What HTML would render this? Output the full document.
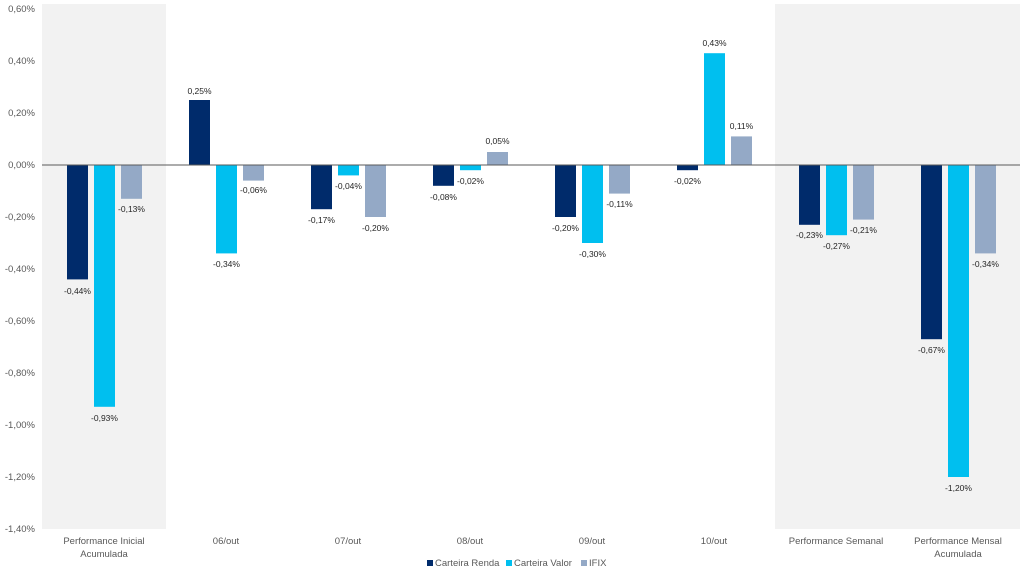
<!DOCTYPE html>
<html><head><meta charset="utf-8"><style>body{margin:0;background:#fff}svg{display:block;font-family:"Liberation Sans",sans-serif}</style></head><body>
<svg width="1024" height="575" xmlns="http://www.w3.org/2000/svg">
<rect x="42" y="4" width="124" height="525" fill="#f2f2f2"/>
<rect x="775" y="4" width="245" height="525" fill="#f2f2f2"/>
<g font-size="9.5" fill="#595959" text-anchor="end">
<text x="35" y="12">0,60%</text><text x="35" y="64">0,40%</text><text x="35" y="116">0,20%</text><text x="35" y="168">0,00%</text><text x="35" y="220">-0,20%</text><text x="35" y="272">-0,40%</text><text x="35" y="324">-0,60%</text><text x="35" y="376">-0,80%</text><text x="35" y="428">-1,00%</text><text x="35" y="480">-1,20%</text><text x="35" y="532">-1,40%</text>
</g>
<g fill="#002b6b">
<rect x="67" y="165" width="21" height="114.4"/><rect x="189" y="100" width="21" height="65"/><rect x="311" y="165" width="21" height="44.2"/><rect x="433" y="165" width="21" height="20.8"/><rect x="555" y="165" width="21" height="52"/><rect x="677" y="165" width="21" height="5.2"/><rect x="799" y="165" width="21" height="59.8"/><rect x="921" y="165" width="21" height="174.2"/>
</g>
<g fill="#00bfef">
<rect x="94" y="165" width="21" height="241.8"/><rect x="216" y="165" width="21" height="88.4"/><rect x="338" y="165" width="21" height="10.4"/><rect x="460" y="165" width="21" height="5.2"/><rect x="582" y="165" width="21" height="78"/><rect x="704" y="53.2" width="21" height="111.8"/><rect x="826" y="165" width="21" height="70.2"/><rect x="948" y="165" width="21" height="312"/>
</g>
<g fill="#94a9c6">
<rect x="121" y="165" width="21" height="33.8"/><rect x="243" y="165" width="21" height="15.6"/><rect x="365" y="165" width="21" height="52"/><rect x="487" y="152" width="21" height="13"/><rect x="609" y="165" width="21" height="28.6"/><rect x="731" y="136.4" width="21" height="28.6"/><rect x="853" y="165" width="21" height="54.6"/><rect x="975" y="165" width="21" height="88.4"/>
</g>
<line x1="42" y1="165" x2="1020" y2="165" stroke="#595959" stroke-width="1"/>
<g font-size="8.5" fill="#262626" text-anchor="middle">
<text x="77.5" y="294">-0,44%</text><text x="104.5" y="421">-0,93%</text><text x="131.5" y="212">-0,13%</text>
<text x="199.5" y="94">0,25%</text><text x="226.5" y="267">-0,34%</text><text x="253.5" y="193">-0,06%</text>
<text x="321.5" y="223">-0,17%</text><text x="348.5" y="189">-0,04%</text><text x="375.5" y="231">-0,20%</text>
<text x="443.5" y="200">-0,08%</text><text x="470.5" y="184">-0,02%</text><text x="497.5" y="144">0,05%</text>
<text x="565.5" y="231">-0,20%</text><text x="592.5" y="257">-0,30%</text><text x="619.5" y="207">-0,11%</text>
<text x="687.5" y="184">-0,02%</text><text x="714.5" y="46">0,43%</text><text x="741.5" y="129">0,11%</text>
<text x="809.5" y="238">-0,23%</text><text x="836.5" y="249">-0,27%</text><text x="863.5" y="233">-0,21%</text>
<text x="931.5" y="353">-0,67%</text><text x="958.5" y="491">-1,20%</text><text x="985.5" y="267">-0,34%</text>
</g>
<g font-size="9.5" fill="#595959" text-anchor="middle">
<text x="104" y="544">Performance Inicial</text><text x="104" y="557">Acumulada</text>
<text x="226" y="544">06/out</text><text x="348" y="544">07/out</text><text x="470" y="544">08/out</text><text x="592" y="544">09/out</text><text x="714" y="544">10/out</text>
<text x="836" y="544">Performance Semanal</text>
<text x="958" y="544">Performance Mensal</text><text x="958" y="557">Acumulada</text>
</g>
<g font-size="9.5" fill="#595959">
<rect x="427" y="560" width="6" height="6" fill="#002b6b"/><text x="435" y="566">Carteira Renda</text>
<rect x="506" y="560" width="6" height="6" fill="#00bfef"/><text x="514" y="566">Carteira Valor</text>
<rect x="581" y="560" width="6" height="6" fill="#94a9c6"/><text x="589" y="566">IFIX</text>
</g>
</svg>
</body></html>
